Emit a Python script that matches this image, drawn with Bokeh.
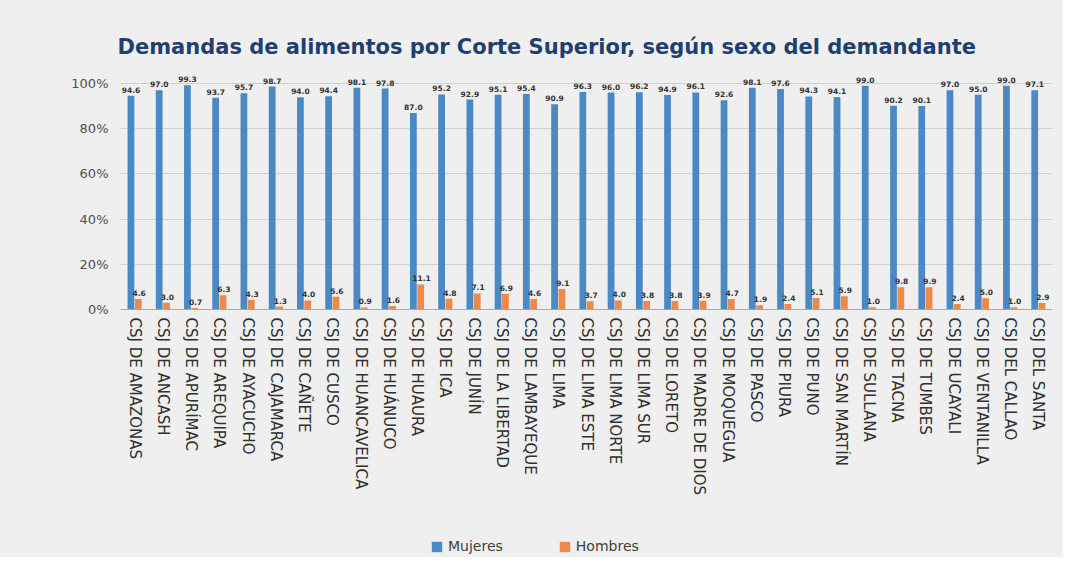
from bokeh.plotting import figure
from bokeh.layouts import column
from bokeh.models import ColumnDataSource, FactorRange, Legend, LegendItem, NumeralTickFormatter, FixedTicker
from bokeh.transform import dodge
from bokeh.core.properties import value
from bokeh.embed import file_html
from bokeh.resources import INLINE

cortes = [
    "CSJ DE AMAZONAS", "CSJ DE ANCASH", "CSJ DE APURÍMAC", "CSJ DE AREQUIPA",
    "CSJ DE AYACUCHO", "CSJ DE CAJAMARCA", "CSJ DE CAÑETE", "CSJ DE CUSCO",
    "CSJ DE HUANCAVELICA", "CSJ DE HUÁNUCO", "CSJ DE HUAURA", "CSJ DE ICA",
    "CSJ DE JUNÍN", "CSJ DE LA LIBERTAD", "CSJ DE LAMBAYEQUE", "CSJ DE LIMA",
    "CSJ DE LIMA ESTE", "CSJ DE LIMA NORTE", "CSJ DE LIMA SUR", "CSJ DE LORETO",
    "CSJ DE MADRE DE DIOS", "CSJ DE MOQUEGUA", "CSJ DE PASCO", "CSJ DE PIURA",
    "CSJ DE PUNO", "CSJ DE SAN MARTÍN", "CSJ DE SULLANA", "CSJ DE TACNA",
    "CSJ DE TUMBES", "CSJ DE UCAYALI", "CSJ DE VENTANILLA", "CSJ DEL CALLAO",
    "CSJ DEL SANTA",
]
mujeres = [94.6, 97.0, 99.3, 93.7, 95.7, 98.7, 94.0, 94.4, 98.1, 97.8, 87.0, 95.2,
           92.9, 95.1, 95.4, 90.9, 96.3, 96.0, 96.2, 94.9, 96.1, 92.6, 98.1, 97.6,
           94.3, 94.1, 99.0, 90.2, 90.1, 97.0, 95.0, 99.0, 97.1]
hombres = [4.6, 3.0, 0.7, 6.3, 4.3, 1.3, 4.0, 5.6, 0.9, 1.6, 11.1, 4.8,
           7.1, 6.9, 4.6, 9.1, 3.7, 4.0, 3.8, 3.8, 3.9, 4.7, 1.9, 2.4,
           5.1, 5.9, 1.0, 9.8, 9.9, 2.4, 5.0, 1.0, 2.9]
series = ["Mujeres", "Hombres"]
ticks = [0, 0.2, 0.4, 0.6, 0.8, 1.0]

BLUE = "#4a89c4"
ORANGE = "#ec8a4c"
BG = "#efefef"
FONT = "DejaVu Sans"

src = ColumnDataSource(dict(
    cat=cortes,
    m=[v / 100 for v in mujeres],
    h=[v / 100 for v in hombres],
    ml=[f"{v:.1f}" for v in mujeres],
    hl=[f"{v:.1f}" for v in hombres],
))

p = figure(x_range=FactorRange(*cortes, range_padding=0), y_range=(0, 1.08),
           width=1063, height=527, output_backend="svg", toolbar_location=None,
           min_border_left=120, min_border_right=11, min_border_top=65, min_border_bottom=218)
p.background_fill_color = BG
p.border_fill_color = BG
p.outline_line_color = None

p.title.text = "Demandas de alimentos por Corte Superior, según sexo del demandante"
p.title.align = "left"
p.title.offset = -3
p.title.text_font = FONT
p.title.text_font_size = "21px"
p.title.text_font_style = "bold"
p.title.text_color = "#1f3f70"
p.title.standoff = 14

rm = p.vbar(x=dodge("cat", -0.13, range=p.x_range), top="m", width=0.24, source=src,
            fill_color=BLUE, line_color=None)
rh = p.vbar(x=dodge("cat", 0.13, range=p.x_range), top="h", width=0.24, source=src,
            fill_color=ORANGE, line_color=None)

for col, lab, off in (("m", "ml", -0.13), ("h", "hl", 0.16)):
    p.text(x=dodge("cat", off, range=p.x_range), y=col, text=lab, source=src,
           text_align="center", text_baseline="bottom", y_offset=-3,
           text_font=value(FONT), text_font_size="7.5px",
           text_font_style="bold", text_color="#333333")

p.yaxis.ticker = FixedTicker(ticks=ticks)
p.yaxis.formatter = NumeralTickFormatter(format="0%")
p.yaxis.axis_line_color = None
p.yaxis.major_tick_line_color = None
p.yaxis.minor_tick_line_color = None
p.yaxis.major_tick_out = 0
p.yaxis.minor_tick_out = 0
p.yaxis.major_label_standoff = 12
p.yaxis.major_label_text_font = FONT
p.yaxis.major_label_text_font_size = "13px"
p.yaxis.major_label_text_color = "#505050"

p.xaxis.axis_line_color = "#a8a8a8"
p.xaxis.major_tick_line_color = None
p.xaxis.minor_tick_line_color = None
p.xaxis.major_tick_out = 0
p.xaxis.minor_tick_out = 0
p.xaxis.major_label_standoff = 8
p.xaxis.major_label_orientation = "vertical"
p.xaxis.major_label_text_font = FONT
p.xaxis.major_label_text_font_size = "15px"
p.xaxis.major_label_text_color = "#303030"

p.xgrid.grid_line_color = None
p.ygrid.grid_line_color = "#cfcfcf"
p.ygrid.ticker = FixedTicker(ticks=ticks)

# legend strip below the chart (swatch renderers sit outside the visible range)
q = figure(width=1063, height=30, output_backend="svg", toolbar_location=None,
           min_border=0, x_range=(0, 1), y_range=(0, 1))
q.background_fill_color = BG
q.border_fill_color = BG
q.outline_line_color = None
q.axis.visible = False
q.grid.visible = False
lm = q.vbar(x=[-5], top=[-5], width=0.1, fill_color=BLUE, line_color=None)
lh = q.vbar(x=[-5], top=[-5], width=0.1, fill_color=ORANGE, line_color=None)
legend = Legend(items=[LegendItem(label=series[0], renderers=[lm]),
                       LegendItem(label=series[1], renderers=[lh])],
                orientation="horizontal", location=(310, 3))
legend.background_fill_alpha = 0
legend.border_line_color = None
legend.padding = 2
legend.label_text_font = FONT
legend.label_text_font_size = "14px"
legend.label_text_color = "#404040"
legend.glyph_width = 13
legend.glyph_height = 13
legend.spacing = 55
q.add_layout(legend)

layout = column(p, q, spacing=0, styles={"background-color": BG})
open("out.html", "w").write(file_html(layout, INLINE))
